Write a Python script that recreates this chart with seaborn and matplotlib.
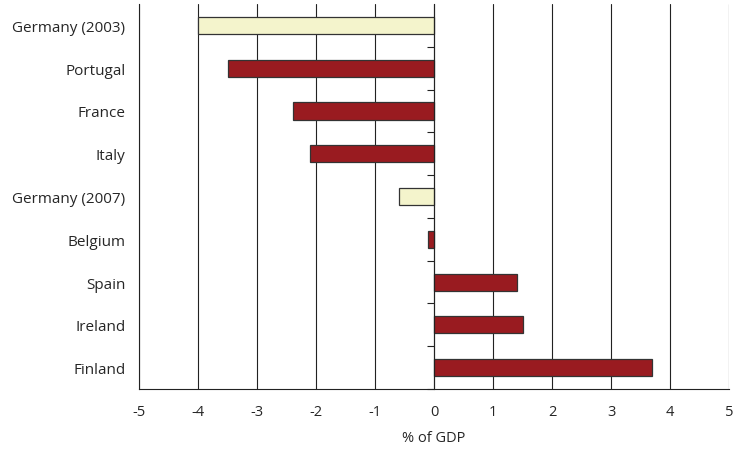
import matplotlib
matplotlib.use("Agg")
import matplotlib.pyplot as plt
import seaborn as sns
import pandas as pd
import numpy as np

countries = ["Germany (2003)", "Portugal", "France", "Italy", "Germany (2007)",
             "Belgium", "Spain", "Ireland", "Finland"]
values = [-4.0, -3.5, -2.4, -2.1, -0.6, -0.1, 1.4, 1.5, 3.7]
group = ["Germany", "Other", "Other", "Other", "Germany", "Other", "Other", "Other", "Other"]
xticks = [-5, -4, -3, -2, -1, 0, 1, 2, 3, 4, 5]

df = pd.DataFrame({"country": countries, "value": values, "group": group})

sns.set_style("white")
plt.rcParams["font.family"] = ["Open Sans", "DejaVu Sans"]

fig = plt.figure(figsize=(7.33, 4.52), dpi=100)
ax = fig.add_axes([0.19, 0.137, 0.8045, 0.852])

sns.barplot(data=df, x="value", y="country", hue="group", orient="h",
            palette={"Germany": "#F4F4CC", "Other": "#991B20"}, saturation=1,
            width=0.4, edgecolor="#333333", linewidth=0.9, legend=False, ax=ax)

ax.set_xlim(-5, 5)
ax.set_ylim(len(countries) - 0.5, -0.5)
ax.set_xticks(xticks)
ax.set_xticklabels([str(t) for t in xticks])
ax.xaxis.grid(True, color="#222222", linewidth=0.8)
ax.set_axisbelow(True)
ax.set_xlabel("% of GDP", fontsize=10.5, labelpad=8)
ax.set_ylabel("")

for s in ["top", "right"]:
    ax.spines[s].set_visible(False)
for s in ["left", "bottom"]:
    ax.spines[s].set_color("#222222")
    ax.spines[s].set_linewidth(0.8)

ax.tick_params(axis="x", direction="out", length=5, width=0.8, color="#222222",
               labelsize=10.5, pad=6)
ax.tick_params(axis="y", length=0, labelsize=11, pad=10)

# zero axis with ticks between categories
zero = ax.twinx()
zero.set_ylim(ax.get_ylim())
for s in ["top", "right", "bottom"]:
    zero.spines[s].set_visible(False)
zero.spines["left"].set_position(("data", 0))
zero.spines["left"].set_color("#222222")
zero.spines["left"].set_linewidth(0.8)
zero.yaxis.set_ticks_position("left")
zero.set_yticks(np.arange(1, len(countries) + 1) - 0.5)
zero.set_yticklabels([])
zero.tick_params(axis="y", direction="out", length=5, width=0.8, color="#222222")
zero.grid(False)

fig.savefig("out.png", dpi=100)
